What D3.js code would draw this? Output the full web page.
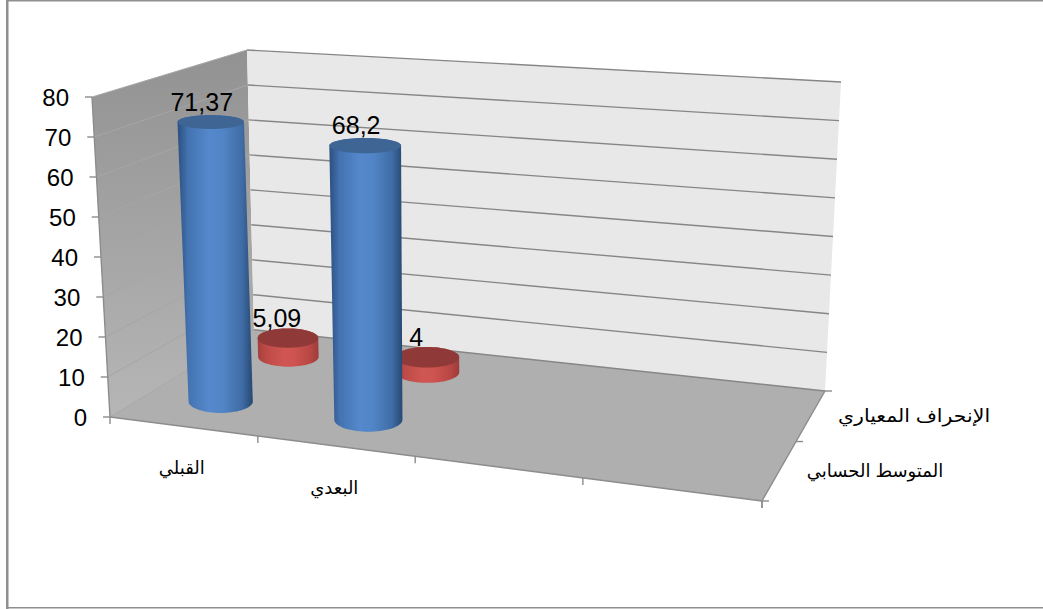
<!DOCTYPE html>
<html lang="ar">
<head>
<meta charset="utf-8">
<script src="https://cdn.jsdelivr.net/npm/d3@7/dist/d3.min.js"></script>
<style>
  html, body { margin: 0; padding: 0; background: #fff; }
  svg { display: block; }
  text { font-family: "Liberation Sans", Arial, sans-serif; fill: #000; }
  .ar { font-family: "Liberation Sans", "DejaVu Sans", sans-serif; }
</style>
</head>
<body>
<svg id="chart" width="1043" height="609"></svg>
<script>
// Chart values
const categories = ["القبلي", "البعدي", "", ""];
const seriesNames = ["المتوسط الحسابي", "الإنحراف المعياري"];
const meanValues = [71.37, 68.2];
const deviationValues = [5.09, 4];
const meanLabels = ["71,37", "68,2"];
const deviationLabels = ["5,09", "4"];
const valueTicks = [0, 10, 20, 30, 40, 50, 60, 70, 80];

// The 3D box of the plot: floor and ceiling quads, each as
// front-left, front-right, back-right, back-left.
const floorQuad = [[110, 417], [762, 501], [825, 391], [254, 329.7]];
const ceilingQuad = [[92, 97], [803, 146], [841, 82], [247, 50]];

// Maps the unit square onto a quadrilateral (projective transform).
function quadMap(q) {
  const [[x0, y0], [x1, y1], [x2, y2], [x3, y3]] = q;
  const dx1 = x1 - x2, dx2 = x3 - x2, sx = x0 - x1 + x2 - x3;
  const dy1 = y1 - y2, dy2 = y3 - y2, sy = y0 - y1 + y2 - y3;
  const det = dx1 * dy2 - dx2 * dy1;
  const g = (sx * dy2 - dx2 * sy) / det;
  const h = (dx1 * sy - sx * dy1) / det;
  const a = x1 - x0 + g * x1, b = x3 - x0 + h * x3;
  const d = y1 - y0 + g * y1, e = y3 - y0 + h * y3;
  return (u, v) => {
    const w = g * u + h * v + 1;
    return [(a * u + b * v + x0) / w, (d * u + e * v + y0) / w];
  };
}
const onFloor = quadMap(floorQuad);
const onCeiling = quadMap(ceilingQuad);

// Scales: category across the floor, series into the depth, value up the walls.
const xBand = d3.scaleBand().domain(d3.range(categories.length)).range([0, 1]);
const depthBand = d3.scaleBand().domain(d3.range(seriesNames.length)).range([0, 1]);
const heightScale = d3.scaleLinear().domain([0, 80]).range([0, 1]);

function project(u, v, value) {
  const a = onFloor(u, v), b = onCeiling(u, v), t = heightScale(value);
  return [a[0] + (b[0] - a[0]) * t, a[1] + (b[1] - a[1]) * t];
}

const svg = d3.select("#chart");
const defs = svg.append("defs");
const polyLine = d3.line();

// Chart frame: heavier on the left, open on the right
svg.append("rect").attr("width", 1043).attr("height", 609).attr("fill", "#fff");
svg.append("rect").attr("x", 6).attr("y", 0).attr("width", 2.5).attr("height", 609).attr("fill", "#8f8f8f");
svg.append("rect").attr("x", 6).attr("y", 0).attr("width", 1037).attr("height", 1.5).attr("fill", "#8f8f8f");
svg.append("rect").attr("x", 6).attr("y", 607).attr("width", 1037).attr("height", 1.5).attr("fill", "#8f8f8f");

// Walls and floor
const sideFill = defs.append("linearGradient").attr("id", "sideWall")
  .attr("x1", 0).attr("x2", 0).attr("y1", 0).attr("y2", 1);
sideFill.append("stop").attr("offset", 0).attr("stop-color", "#929292");
sideFill.append("stop").attr("offset", 1).attr("stop-color", "#b6b6b6");

const corner = (u, v, val) => project(u, v, val);
svg.append("path").attr("fill", "url(#sideWall)")
  .attr("d", polyLine([corner(0, 0, 0), corner(0, 0, 80), corner(0, 1, 80), corner(0, 1, 0)]) + "Z");
svg.append("path").attr("fill", "#e8e8e8")
  .attr("d", polyLine([corner(0, 1, 0), corner(0, 1, 80), corner(1, 1, 80), corner(1, 1, 0)]) + "Z");
svg.append("path").attr("fill", "#afafaf")
  .attr("d", polyLine([corner(0, 0, 0), corner(1, 0, 0), corner(1, 1, 0), corner(0, 1, 0)]) + "Z");

// Gridlines on both walls
valueTicks.forEach(t => {
  svg.append("path").attr("fill", "none").attr("stroke", "#a6a6a6").attr("stroke-width", 1)
    .attr("d", polyLine([corner(0, 0, t), corner(0, 1, t)]));
  svg.append("path").attr("fill", "none").attr("stroke", "#868686").attr("stroke-width", 1.4)
    .attr("d", polyLine([corner(0, 1, t), corner(1, 1, t)]));
});

// Box edges
[[corner(0, 0, 0), corner(0, 0, 80)], [corner(0, 0, 0), corner(1, 0, 0)], [corner(1, 0, 0), corner(1, 1, 0)]]
  .forEach(seg => svg.append("path").attr("fill", "none").attr("stroke", "#8c8c8c")
    .attr("stroke-width", 1.4).attr("d", polyLine(seg)));

// Value axis
const tick = (p0, dx, dy) => svg.append("line")
  .attr("x1", p0[0]).attr("y1", p0[1]).attr("x2", p0[0] + dx).attr("y2", p0[1] + dy)
  .attr("stroke", "#8c8c8c").attr("stroke-width", 1.4);

valueTicks.forEach(t => {
  const p = corner(0, 0, t);
  tick(p, -7, 0);
  svg.append("text").attr("x", p[0] - 23).attr("y", p[1] + 9)
    .attr("text-anchor", "end").attr("font-size", 24).text(t);
});

// Category axis
d3.range(categories.length + 1).forEach(i => tick(corner(i / categories.length, 0, 0), 0, 7));
categories.forEach((name, i) => {
  if (!name) return;
  const p = corner(xBand(i) + xBand.bandwidth() / 2, 0, 0);
  svg.append("text").attr("class", "ar").attr("x", p[0] - 1).attr("y", p[1] + 48)
    .attr("text-anchor", "middle").attr("font-size", 18).text(name);
});

// Depth axis; the rear series name is set a little wider than its natural run
d3.range(seriesNames.length + 1).forEach(i => tick(corner(1, i / seriesNames.length, 0), 7, 0));
tick(corner(1, 0, 0), 0, 7);
seriesNames.forEach((name, i) => {
  const p = corner(1, depthBand(i) + depthBand.bandwidth() / 2, 0);
  const label = svg.append("text").attr("class", "ar").attr("x", p[0] + 27).attr("y", p[1] + 7)
    .attr("text-anchor", "start").attr("font-size", 18).text(name);
  if (i === 1) label.attr("textLength", 152).attr("lengthAdjust", "spacingAndGlyphs");
});

// Cylinders: body shaded left to right with a darker lid
const halfU = 0.056, halfV = 0.12;
const palettes = [
  { stops: ["#2b4f80", "#4373b0", "#5588cc", "#5185c6", "#3f6ca5", "#274872"], lid: "#3e6594", shiftX: -9, shiftY: 4 },
  { stops: ["#a23f3c", "#bd4a47", "#cf5652", "#cd5450", "#b84744", "#9c3c39"], lid: "#8f3a38", shiftX: -11, shiftY: 1 }
];

function ring(u, v, value) {
  const c = project(u, v, value);
  const rx = Math.abs(project(u + halfU, v, value)[0] - project(u - halfU, v, value)[0]) / 2;
  const ry = Math.abs(project(u, v + halfV, value)[1] - project(u, v - halfV, value)[1]) / 2;
  return d3.range(0, 72).map(k => {
    const a = k / 72 * 2 * Math.PI;
    return [c[0] + rx * Math.cos(a), c[1] + ry * Math.sin(a)];
  });
}

function cylinder(id, catIndex, seriesIndex, value, label) {
  const u = xBand(catIndex) + xBand.bandwidth() / 2;
  const v = depthBand(seriesIndex) + depthBand.bandwidth() / 2;
  const bottom = ring(u, v, 0), top = ring(u, v, value);
  const hull = d3.polygonHull(bottom.concat(top));
  const xs = hull.map(p => p[0]);
  const pal = palettes[seriesIndex];
  const grad = defs.append("linearGradient").attr("id", id)
    .attr("gradientUnits", "userSpaceOnUse")
    .attr("x1", d3.min(xs)).attr("x2", d3.max(xs)).attr("y1", 0).attr("y2", 0);
  [0, 0.14, 0.42, 0.6, 0.86, 1].forEach((o, i) =>
    grad.append("stop").attr("offset", o).attr("stop-color", pal.stops[i]));
  svg.append("path").attr("fill", `url(#${id})`).attr("d", polyLine(hull) + "Z");
  svg.append("path").attr("fill", pal.lid).attr("d", polyLine(top) + "Z");
  const c = project(u, v, value);
  const ry = (d3.max(top, p => p[1]) - d3.min(top, p => p[1])) / 2;
  svg.append("text").attr("x", c[0] + pal.shiftX).attr("y", c[1] - ry - pal.shiftY)
    .attr("text-anchor", "middle").attr("font-size", 25).text(label);
}

// Back series first so the front cylinders overlap it
deviationValues.forEach((val, i) => cylinder(`dev${i}`, i, 1, val, deviationLabels[i]));
meanValues.forEach((val, i) => cylinder(`mean${i}`, i, 0, val, meanLabels[i]));
</script>
</body>
</html>
